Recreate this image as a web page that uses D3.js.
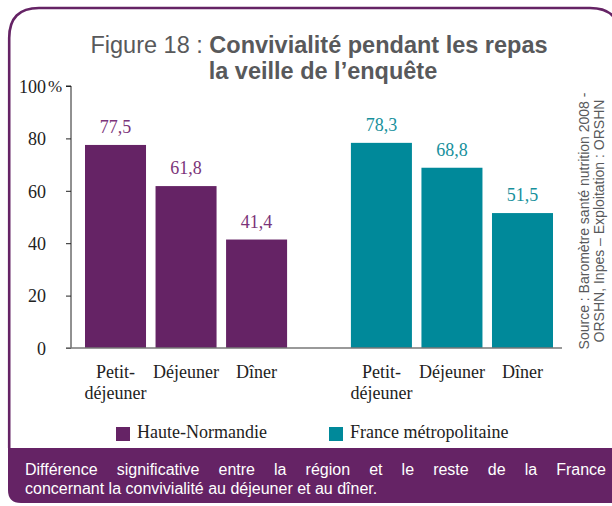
<!DOCTYPE html>
<html>
<head>
<meta charset="utf-8">
<script src="https://cdn.jsdelivr.net/npm/d3@7"></script>
<style>
  body { margin: 0; background: #fff; }
  svg { display: block; }
</style>
</head>
<body>
<div id="chart"></div>
<script>
// data
var meals = ["Petit-déjeuner", "Déjeuner", "Dîner"];
var mealLines = [["Petit-", "déjeuner"], ["Déjeuner"], ["Dîner"]];
var regions = ["Haute-Normandie", "France métropolitaine"];
var hnValues = [77.5, 61.8, 41.4];
var frValues = [78.3, 68.8, 51.5];
var yTicks = [0, 20, 40, 60, 80, 100];

var purple = "#652365",
    teal = "#00899a",
    grey = "#58595b";

var serif = "'Liberation Serif', 'Times New Roman', serif",
    sans = "'Liberation Sans', Arial, sans-serif";

var width = 612, height = 506;

var fr = d3.formatLocale({decimal: ",", thousands: " ", grouping: [3], currency: ["", "€"]});
var fmt = fr.format(".1f");

var svg = d3.select("#chart").append("svg")
    .attr("width", width)
    .attr("height", height);

// frame and bottom band
var bandTop = 448, bandBot = 503, r = 30, r2 = 13;
svg.append("path")
    .attr("d", "M8," + bandTop + " V" + (bandBot - r2) + " Q8," + bandBot + " " + (8 + r2) + "," + bandBot +
        " H620 V" + bandTop + " Z")
    .attr("fill", purple);

svg.append("path")
    .attr("d", "M9.2," + bandTop + " V" + (8 + r) + " Q9.2,8 " + (9 + r) + ",8 H590 Q620,8 620," + (8 + r))
    .attr("fill", "none")
    .attr("stroke", purple)
    .attr("stroke-width", 2.6);

// title
var title = svg.append("text")
    .attr("x", 319)
    .attr("y", 53)
    .attr("text-anchor", "middle")
    .style("font-family", sans)
    .style("font-size", "23.5px")
    .attr("fill", grey);
title.append("tspan").text("Figure 18 : ");
title.append("tspan").attr("font-weight", "bold").text("Convivialité pendant les repas");

svg.append("text")
    .attr("x", 323)
    .attr("y", 79)
    .attr("text-anchor", "middle")
    .style("font-family", sans)
    .style("font-size", "23.5px")
    .attr("font-weight", "bold")
    .attr("fill", grey)
    .text("la veille de l\u2019enquête");

// scales
var y = d3.scaleLinear().domain([0, 100]).range([348, 86]);

var x0 = d3.scaleBand()
    .domain(regions)
    .range([85, 553])
    .paddingInner(0.24)
    .paddingOuter(0);

var x1 = d3.scaleBand()
    .domain(meals)
    .range([0, x0.bandwidth()])
    .paddingInner(0.135)
    .paddingOuter(0);

var colors = d3.scaleOrdinal().domain(regions).range([purple, teal]);

var series = regions.map(function(reg, i) {
    var vals = i == 0 ? hnValues : frValues;
    return {region: reg, values: meals.map(function(m, j) { return {meal: m, value: vals[j], lines: mealLines[j]}; })};
});

// y axis
var yAxis = svg.append("g")
    .attr("transform", "translate(71,0)")
    .call(d3.axisLeft(y).tickValues(yTicks).tickSize(5).tickPadding(20).tickFormat(d3.format("d")));
yAxis.select(".domain").attr("stroke", "#222").attr("d", "M-5," + y(100) + "H0V" + y(0));
yAxis.selectAll(".tick line").attr("stroke", "#222");
yAxis.selectAll(".tick text")
    .style("font-family", serif)
    .style("font-size", "18px")
    .attr("fill", "#222")
    .attr("dy", "0.35em");
yAxis.selectAll(".tick")
    .filter(function(d) { return d == 100; })
    .append("text")
    .attr("x", -23)
    .attr("dy", "0.35em")
    .attr("text-anchor", "start")
    .style("font-family", serif)
    .style("font-size", "17px")
    .attr("fill", "#222")
    .text("%");

// bars
var groups = svg.selectAll(".grp")
    .data(series)
    .enter().append("g")
    .attr("class", "grp")
    .attr("transform", function(d) { return "translate(" + x0(d.region) + ",0)"; });

groups.selectAll("rect")
    .data(function(d) { return d.values.map(function(v) { v.region = d.region; return v; }); })
    .enter().append("rect")
    .attr("x", function(d) { return x1(d.meal); })
    .attr("y", function(d) { return y(d.value); })
    .attr("width", x1.bandwidth())
    .attr("height", function(d) { return y(0) - y(d.value); })
    .attr("fill", function(d) { return colors(d.region); });

groups.selectAll(".val")
    .data(function(d) { return d.values; })
    .enter().append("text")
    .attr("class", "val")
    .attr("x", function(d) { return x1(d.meal) + x1.bandwidth() / 2; })
    .attr("y", function(d) { return y(d.value) - 12; })
    .attr("text-anchor", "middle")
    .style("font-family", serif)
    .style("font-size", "18px")
    .attr("fill", function(d) { return d.region == regions[0] ? "#7b3479" : "#17909c"; })
    .text(function(d) { return fmt(d.value); });

groups.selectAll(".cat")
    .data(function(d) { return d.values; })
    .enter().append("text")
    .attr("class", "cat")
    .attr("y", 378)
    .attr("text-anchor", "middle")
    .style("font-family", serif)
    .style("font-size", "18px")
    .attr("fill", "#222")
    .each(function(d) {
        var t = d3.select(this);
        d.lines.forEach(function(l, i) {
            t.append("tspan")
                .attr("x", x1(d.meal) + x1.bandwidth() / 2)
                .attr("dy", i == 0 ? 0 : 21)
                .text(l);
        });
    });

// baseline
svg.append("line")
    .attr("x1", 66).attr("x2", 562)
    .attr("y1", y(0)).attr("y2", y(0))
    .attr("stroke", "#777")
    .attr("stroke-width", 1.6);

// legend
var legendX = [116, 329];
var legend = svg.selectAll(".leg")
    .data(regions)
    .enter().append("g")
    .attr("class", "leg")
    .attr("transform", function(d, i) { return "translate(" + legendX[i] + ",427)"; });
legend.append("rect")
    .attr("width", 14).attr("height", 14)
    .attr("fill", function(d) { return colors(d); });
legend.append("text")
    .attr("x", 21)
    .attr("y", 11)
    .style("font-family", serif)
    .style("font-size", "18px")
    .attr("fill", "#222")
    .text(function(d) { return d; });

// source, rotated
var src = svg.append("text")
    .attr("transform", "translate(589,221) rotate(-90)")
    .attr("text-anchor", "middle")
    .style("font-family", sans)
    .style("font-size", "14px")
    .attr("fill", grey);
src.append("tspan").attr("x", 0).attr("y", 0).text("Source : Baromètre santé nutrition 2008 -");
src.append("tspan").attr("x", 0).attr("y", 15).text("ORSHN, Inpes \u2013 Exploitation : ORSHN");

// note in the band, first line justified word by word
var note1 = "Différence significative entre la région et le reste de la France".split(" ");
var noteLeft = 25, noteRight = 606;
var words = svg.append("g")
    .style("font-family", sans)
    .style("font-size", "16px")
    .attr("fill", "#fff")
    .selectAll("text")
    .data(note1)
    .enter().append("text")
    .attr("y", 475)
    .text(function(d) { return d; });
var widths = [];
words.each(function() { widths.push(this.getComputedTextLength()); });
var gap = (noteRight - noteLeft - d3.sum(widths)) / (note1.length - 1);
var cx = noteLeft;
words.attr("x", function(d, i) { var v = cx; cx += widths[i] + gap; return v; });

svg.append("text")
    .attr("x", noteLeft).attr("y", 494)
    .style("font-family", sans)
    .style("font-size", "16px")
    .attr("fill", "#fff")
    .text("concernant la convivialité au déjeuner et au dîner.");
</script>
</body>
</html>
